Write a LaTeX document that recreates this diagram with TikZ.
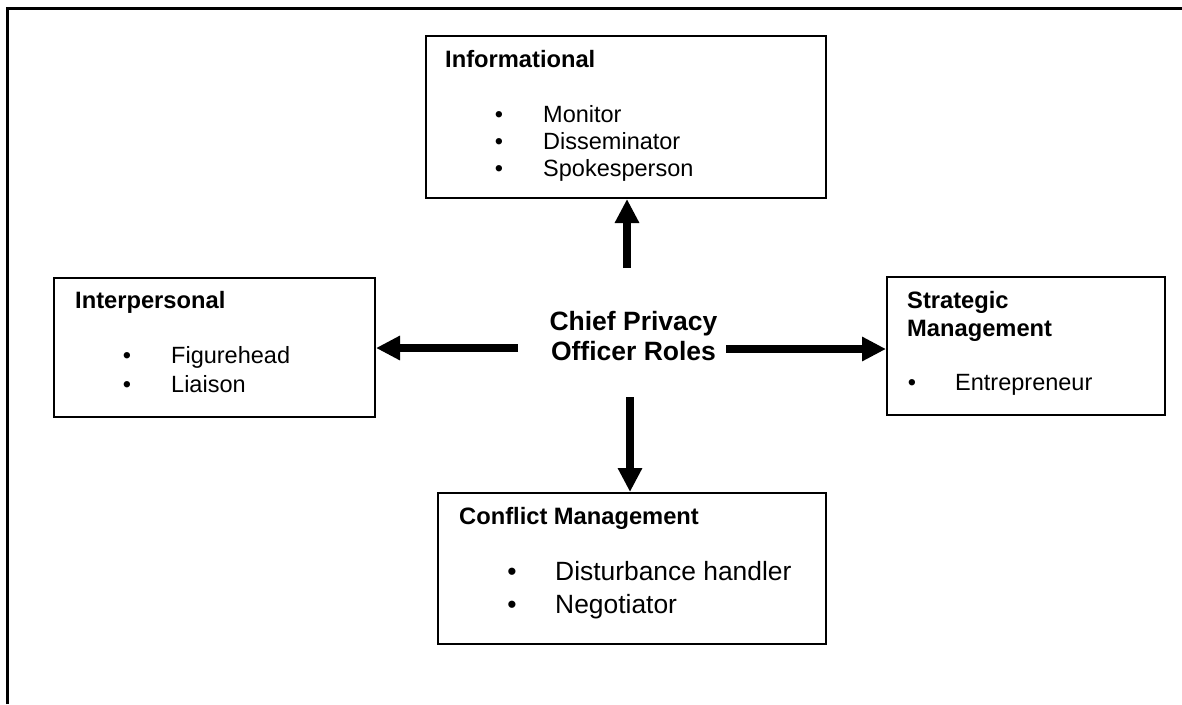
\documentclass[tikz,border=0pt]{standalone}
\usepackage{fontspec}
\setmainfont{Liberation Sans}
\usetikzlibrary{arrows.meta}

\tikzset{
  rolebox/.style={draw=black, line width=2pt, inner sep=0pt, anchor=north west},
  rolehead/.style={font=\fontsize{23.7}{28}\selectfont\bfseries, anchor=base west, inner sep=0pt},
  roleitem/.style={font=\fontsize{23.5}{28}\selectfont, anchor=base west, inner sep=0pt},
  bigitem/.style={font=\fontsize{26.4}{30}\selectfont, anchor=base west, inner sep=0pt},
  bulletdot/.style={font=\fontsize{23.5}{28}\selectfont, anchor=base, inner sep=0pt},
  bigarrow/.style={line width=8pt, -{Triangle[length=24pt,width=23pt]}}
}

\begin{document}
\begin{tikzpicture}[x=1pt, y=-1pt]

  \useasboundingbox (0,0) rectangle (1182,704);

% FRAME
  \draw[black, line width=3pt] (7,704) -- (7,8) -- (1182,8);

% CENTRE
  \node[font=\fontsize{26.5}{30}\selectfont\bfseries, align=center, inner sep=0pt] (cpo) at (633.5,336) {Chief Privacy\\Officer Roles};

% Informational
  \node[rolebox, minimum width=400pt, minimum height=162pt] (info) at (425,35) {};
  \node[rolehead] (infohead) at (445,67) {Informational};
  \foreach \txt/\y [count=\i] in {Monitor/122, Disseminator/149, Spokesperson/176} {
      \node[bulletdot] (infodot\i) at (499,\y) {\textbullet};
      \node[roleitem] (infoitem\i) at (543,\y) {\txt};
  }

% Interpersonal
  \node[rolebox, minimum width=321pt, minimum height=139pt] (inter) at (53,277) {};
  \node[rolehead] (interhead) at (75,308) {Interpersonal};
  \foreach \txt/\y [count=\i] in {Figurehead/363, Liaison/392} {
      \node[bulletdot] (interdot\i) at (127,\y) {\textbullet};
      \node[roleitem] (interitem\i) at (171,\y) {\txt};
  }

% Strategic Management
  \node[rolebox, minimum width=278pt, minimum height=138pt] (strat) at (886,276) {};
  \node[rolehead] (strathead) at (907,308) {Strategic};
  \node[rolehead] (strathead2) at (907,336) {Management};
  \node[bulletdot] (stratdot) at (912,390) {\textbullet};
  \node[roleitem] (stratitem) at (955,390) {Entrepreneur};

% Conflict Management
  \node[rolebox, minimum width=388pt, minimum height=151pt] (conf) at (437,492) {};
  \node[rolehead] (confhead) at (459,524) {Conflict Management};
  \foreach \txt/\y [count=\i] in {Disturbance handler/580, Negotiator/613} {
      \node[bulletdot, font=\fontsize{26.4}{30}\selectfont] (confdot\i) at (512,\y) {\textbullet};
      \node[bigitem] (confitem\i) at (555,\y) {\txt};
  }

% ARROWS
  \coordinate (toup)    at (627,268);
  \coordinate (toleft)  at (518,348);
  \coordinate (toright) at (726,349);
  \coordinate (todown)  at (630,397);
  \draw[bigarrow] (toup)    -- (toup |- info.south);
  \draw[bigarrow] (toleft)  -- (toleft -| inter.east);
  \draw[bigarrow] (toright) -- (toright -| strat.west);
  \draw[bigarrow] (todown)  -- (todown |- conf.north);

\end{tikzpicture}
\end{document}
